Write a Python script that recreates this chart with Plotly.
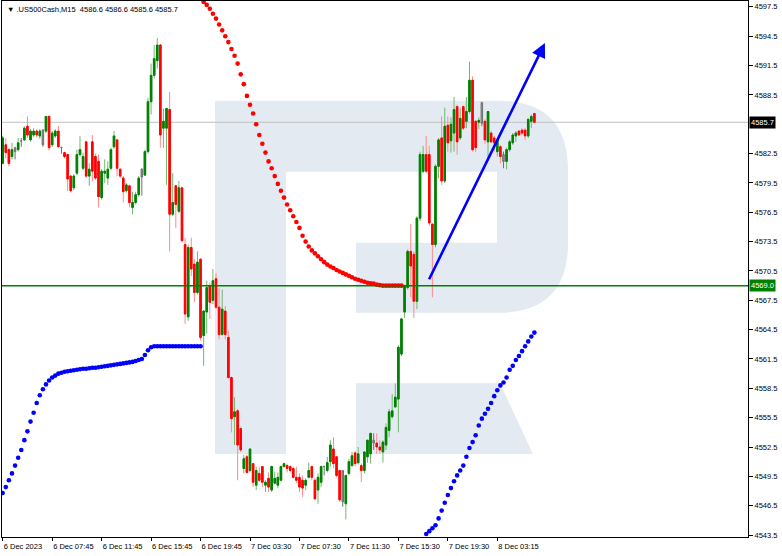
import plotly.graph_objects as go

# ---------------- data ----------------
tick_bars = [0, 16, 32, 48, 64, 80, 96, 112, 128, 144, 160]
tick_labels = ["6 Dec 2023", "6 Dec 07:45", "6 Dec 11:45", "6 Dec 15:45", "6 Dec 19:45",
               "7 Dec 03:30", "7 Dec 07:30", "7 Dec 11:30", "7 Dec 15:30", "7 Dec 19:30",
               "8 Dec 03:15"]

price_ticks = [4597.5, 4594.5, 4591.5, 4588.5, 4582.5, 4579.5, 4576.5, 4573.5, 4570.5,
               4567.5, 4564.5, 4561.5, 4558.5, 4555.5, 4552.5, 4549.5, 4546.5, 4543.5]

open_ = [4581.5, 4583.4, 4582.9, 4582.2, 4583.1, 4582.9, 4583.8, 4583.9, 4585.3, 4583.9,
         4584.4, 4584.8, 4584.3, 4584.9, 4584.8, 4586.3, 4583.4, 4584.3, 4584.8, 4583.1,
         4582.6, 4582.4, 4580.2, 4579.0, 4580.5, 4582.4, 4581.0, 4583.7, 4580.2, 4583.7,
         4582.2, 4581.7, 4578.0, 4580.5, 4580.0, 4581.0, 4583.2, 4583.9, 4580.9, 4580.0,
         4578.7, 4579.2, 4577.0, 4577.5, 4578.3, 4580.9, 4580.3, 4582.7, 4587.8, 4590.5,
         4592.0, 4593.6, 4585.1, 4585.1, 4587.0, 4576.3, 4579.2, 4576.6, 4579.0, 4573.2,
         4565.8, 4572.9, 4571.2, 4568.3, 4571.7, 4563.9, 4566.3, 4569.0, 4567.5, 4569.7,
         4566.8, 4564.0, 4566.4, 4563.7, 4559.6, 4555.6, 4556.2, 4554.4, 4550.3, 4551.5,
         4550.1, 4550.8, 4548.6, 4549.8, 4550.5, 4548.6, 4549.3, 4548.1, 4548.8, 4548.6,
         4549.1, 4550.5, 4550.6, 4550.5, 4550.3, 4549.4, 4549.4, 4549.1, 4548.6, 4549.4,
         4550.5, 4549.1, 4548.1, 4548.9, 4550.5, 4550.1, 4551.0, 4552.3, 4551.5, 4550.1,
         4550.1, 4546.7, 4549.8, 4550.6, 4551.9, 4550.9, 4550.6, 4550.1, 4551.5, 4551.8,
         4553.2, 4552.9, 4552.5, 4552.0, 4552.7, 4554.2, 4555.6, 4556.6, 4557.4, 4562.0,
         4566.3, 4568.8, 4572.5, 4572.2, 4567.4, 4575.9, 4580.7, 4582.4, 4582.4, 4575.3,
         4573.2, 4581.2, 4584.1, 4579.7, 4585.4, 4583.8, 4584.6, 4587.3, 4584.1, 4587.3,
         4585.8, 4586.8, 4590.0, 4585.8, 4585.7, 4587.7, 4585.8, 4583.7, 4584.6, 4584.1,
         4582.7, 4583.2, 4582.4, 4581.7, 4582.9, 4583.6, 4584.3, 4584.8, 4584.9, 4584.9,
         4584.3, 4585.8, 4586.6]

high = [4584.3, 4584.1, 4583.1, 4583.6, 4583.2, 4584.1, 4584.1, 4585.3, 4586.3, 4585.0,
        4585.1, 4585.0, 4585.0, 4585.0, 4586.3, 4586.4, 4584.8, 4585.0, 4585.3, 4583.2,
        4582.7, 4582.5, 4580.3, 4580.4, 4582.9, 4584.3, 4582.6, 4583.8, 4581.5, 4584.4,
        4582.5, 4582.4, 4580.9, 4581.9, 4581.7, 4583.1, 4584.8, 4584.0, 4581.0, 4580.2,
        4579.5, 4579.3, 4578.6, 4578.6, 4580.2, 4581.0, 4582.9, 4588.2, 4591.7, 4593.6,
        4594.3, 4593.7, 4587.1, 4587.2, 4588.8, 4580.5, 4579.3, 4579.7, 4579.1, 4573.9,
        4573.2, 4573.9, 4571.7, 4572.5, 4571.8, 4566.5, 4569.5, 4569.3, 4570.7, 4570.3,
        4568.8, 4568.6, 4566.9, 4564.4, 4559.7, 4557.6, 4556.4, 4554.4, 4551.7, 4551.7,
        4552.3, 4550.8, 4550.5, 4550.5, 4550.5, 4549.1, 4549.9, 4550.6, 4550.0, 4549.9,
        4550.6, 4550.9, 4550.8, 4550.6, 4550.5, 4550.5, 4549.8, 4549.6, 4549.3, 4550.9,
        4550.6, 4549.3, 4549.8, 4550.6, 4550.6, 4551.5, 4553.2, 4553.5, 4551.6, 4550.1,
        4550.1, 4549.6, 4551.3, 4552.0, 4552.1, 4552.5, 4550.8, 4552.0, 4553.2, 4553.9,
        4553.9, 4553.9, 4553.2, 4553.2, 4554.9, 4556.4, 4557.9, 4559.0, 4562.9, 4565.7,
        4569.1, 4572.7, 4575.3, 4572.5, 4576.1, 4582.7, 4583.3, 4584.3, 4583.3, 4575.3,
        4581.4, 4584.1, 4586.3, 4587.2, 4586.3, 4586.2, 4588.3, 4587.5, 4587.1, 4587.4,
        4588.3, 4591.9, 4590.4, 4585.9, 4586.2, 4587.8, 4586.0, 4586.8, 4584.8, 4584.3,
        4583.9, 4583.4, 4582.7, 4583.1, 4583.9, 4584.6, 4584.8, 4584.9, 4585.1, 4585.1,
        4586.1, 4586.5, 4586.6]

low = [4581.4, 4582.0, 4581.2, 4581.9, 4581.9, 4582.7, 4583.2, 4583.8, 4584.1, 4583.7,
       4584.2, 4584.2, 4584.0, 4583.2, 4584.6, 4582.8, 4583.2, 4584.1, 4583.1, 4582.5,
       4582.0, 4578.7, 4578.5, 4578.8, 4580.3, 4582.2, 4580.8, 4580.0, 4579.2, 4579.7,
       4579.8, 4577.0, 4577.8, 4579.5, 4579.3, 4580.8, 4583.0, 4580.2, 4580.0, 4577.5,
       4578.5, 4577.0, 4576.3, 4577.3, 4578.1, 4578.2, 4580.2, 4582.5, 4586.5, 4590.2,
       4591.2, 4583.1, 4583.1, 4579.3, 4572.5, 4576.1, 4574.9, 4576.4, 4573.4, 4565.1,
       4565.4, 4570.0, 4567.3, 4568.1, 4563.4, 4560.8, 4564.1, 4565.6, 4567.1, 4566.6,
       4563.5, 4563.9, 4563.5, 4559.5, 4554.0, 4552.7, 4549.1, 4552.0, 4549.8, 4549.8,
       4549.9, 4548.4, 4548.1, 4548.9, 4548.4, 4547.9, 4547.9, 4547.9, 4548.7, 4548.3,
       4549.0, 4550.4, 4549.9, 4549.9, 4549.3, 4548.8, 4547.9, 4547.4, 4548.1, 4549.3,
       4549.1, 4547.1, 4546.7, 4548.4, 4549.6, 4549.9, 4550.5, 4550.3, 4549.4, 4546.9,
       4546.4, 4545.1, 4549.6, 4550.5, 4550.5, 4550.7, 4548.9, 4549.8, 4550.9, 4550.8,
       4552.2, 4551.8, 4551.8, 4550.9, 4552.2, 4553.5, 4555.4, 4556.5, 4554.0, 4561.8,
       4565.7, 4568.6, 4567.8, 4565.7, 4566.6, 4575.6, 4580.5, 4580.5, 4575.1, 4567.8,
       4572.9, 4580.0, 4579.3, 4579.5, 4582.7, 4582.6, 4582.7, 4582.4, 4583.9, 4584.9,
       4585.1, 4586.6, 4582.7, 4582.7, 4585.0, 4585.3, 4583.5, 4582.0, 4583.6, 4582.7,
       4582.2, 4581.5, 4581.0, 4580.9, 4582.7, 4583.4, 4583.7, 4584.3, 4584.4, 4583.9,
       4584.1, 4585.1, 4585.6]

close = [4584.1, 4582.6, 4581.5, 4582.9, 4582.7, 4583.6, 4583.8, 4585.1, 4584.4, 4584.8,
         4584.8, 4584.4, 4584.8, 4583.4, 4586.3, 4583.1, 4584.6, 4584.8, 4583.2, 4583.1,
         4582.2, 4579.9, 4578.7, 4580.2, 4582.4, 4582.9, 4582.2, 4580.2, 4580.9, 4580.7,
         4580.0, 4578.1, 4580.7, 4580.7, 4580.9, 4582.9, 4584.3, 4581.0, 4580.2, 4578.6,
         4579.3, 4577.5, 4577.5, 4578.3, 4580.0, 4580.1, 4582.7, 4587.8, 4590.5, 4592.2,
         4593.6, 4584.4, 4585.8, 4587.1, 4576.3, 4577.5, 4577.3, 4579.0, 4573.6, 4566.1,
         4572.9, 4570.7, 4568.3, 4571.4, 4563.7, 4566.4, 4568.8, 4567.3, 4569.5, 4566.8,
         4564.0, 4566.6, 4564.0, 4559.6, 4555.4, 4556.1, 4552.7, 4552.2, 4551.3, 4549.9,
         4552.3, 4548.9, 4550.1, 4549.1, 4548.9, 4548.9, 4548.4, 4550.5, 4549.3, 4549.4,
         4550.5, 4550.8, 4550.3, 4550.1, 4549.4, 4549.1, 4548.4, 4548.3, 4549.1, 4550.1,
         4549.4, 4547.2, 4549.4, 4550.5, 4550.5, 4550.9, 4552.7, 4550.8, 4549.6, 4547.1,
         4546.9, 4549.6, 4551.0, 4551.6, 4550.8, 4551.8, 4550.1, 4552.0, 4553.2, 4553.9,
         4552.9, 4552.5, 4552.2, 4553.0, 4554.5, 4556.1, 4556.2, 4557.6, 4562.7, 4565.6,
         4569.0, 4572.5, 4571.0, 4567.4, 4575.9, 4582.4, 4582.4, 4580.7, 4575.4, 4573.2,
         4581.2, 4583.9, 4579.7, 4585.3, 4583.6, 4585.5, 4587.0, 4583.7, 4586.1, 4585.1,
         4586.8, 4590.0, 4582.9, 4583.1, 4585.9, 4585.6, 4583.9, 4586.8, 4583.7, 4583.6,
         4583.9, 4582.2, 4581.7, 4582.9, 4583.7, 4584.4, 4584.6, 4584.4, 4584.6, 4584.3,
         4586.0, 4586.3, 4585.7]

neutral_bars = [4, 6, 13, 19, 45, 104, 110, 120, 155, 162]

# red dotted indicator (starts at bar 65)
red_start = 65
red_dots = [4598.0, 4597.7, 4597.3, 4596.8, 4596.3, 4595.7, 4595.1, 4594.5, 4593.9, 4593.2,
            4592.5, 4591.7, 4590.6, 4589.6, 4588.4, 4587.5, 4586.6, 4585.5, 4584.4, 4583.5,
            4582.6, 4581.7, 4581.0, 4580.2, 4579.4, 4578.7, 4578.0, 4577.3, 4576.7, 4576.1,
            4575.5, 4574.9, 4574.1, 4573.5, 4573.0, 4572.6, 4572.3, 4572.0, 4571.7, 4571.4,
            4571.15, 4570.95, 4570.8, 4570.6, 4570.45, 4570.3, 4570.15, 4570.0, 4569.85, 4569.7,
            4569.6, 4569.5, 4569.4, 4569.3, 4569.25, 4569.2, 4569.1, 4569.05, 4569.0, 4569.0,
            4569.0, 4569.0, 4569.0, 4569.0, 4569.0]

# blue dotted indicator, first run (starts at bar 0)
blue1_start = 0
blue1_dots = [4547.8, 4548.4, 4549.1, 4549.8, 4550.6, 4551.4, 4552.2, 4553.2, 4554.1, 4555.1,
              4556.0, 4557.0, 4557.8, 4558.4, 4558.9, 4559.3, 4559.6, 4559.8, 4560.0, 4560.1,
              4560.2, 4560.25, 4560.3, 4560.35, 4560.4, 4560.45, 4560.5, 4560.5, 4560.55, 4560.6,
              4560.6, 4560.65, 4560.7, 4560.75, 4560.8, 4560.85, 4560.9, 4560.95, 4561.0, 4561.05,
              4561.1, 4561.15, 4561.2, 4561.3, 4561.4, 4561.5, 4561.9, 4562.4, 4562.7, 4562.8,
              4562.8, 4562.8, 4562.8, 4562.8, 4562.8, 4562.8, 4562.8, 4562.8, 4562.8, 4562.8,
              4562.8, 4562.8, 4562.8, 4562.8, 4562.8]

# blue dotted indicator, second run (starts at bar 137)
blue2_start = 137
blue2_dots = [4543.6, 4543.9, 4544.2, 4544.5, 4545.2, 4546.0, 4546.8, 4547.6, 4548.3, 4549.0,
              4549.6, 4550.1, 4550.6, 4551.5, 4552.4, 4553.0, 4553.7, 4554.7, 4555.4, 4555.9,
              4556.4, 4557.0, 4557.7, 4558.3, 4558.8, 4559.1, 4559.6, 4560.4, 4560.8, 4561.4,
              4561.8, 4562.3, 4562.8, 4563.3, 4563.8, 4564.2]

bid_price = 4585.7
level_price = 4569.0

arrow_bars = [137.7, 175.4]
arrow_prices = [4569.5, 4593.8]

header_text = "▼ .US500Cash,M15&nbsp;&nbsp;4586.6 4586.6 4585.6 4585.7"

# ---------------- figure ----------------
GREEN = "#008000"
GREEN_WICK = "#6fb86f"
RED = "#ff0000"
RED_WICK = "#ff8a8a"
FONT = "Liberation Sans, Arial, sans-serif"

fig = go.Figure()

bars = list(range(len(open_)))
up_idx = [i for i in bars if i not in neutral_bars and close[i] > open_[i]]
down_idx = [i for i in bars if i not in neutral_bars and close[i] <= open_[i]]


def candles(idx, line_color, fill_color, body_only=False):
    style = dict(line=dict(color=line_color, width=1), fillcolor=fill_color)
    o = [open_[i] for i in idx]
    c = [close[i] for i in idx]
    if body_only:
        h = [max(a, b) for a, b in zip(o, c)]
        lo = [min(a, b) for a, b in zip(o, c)]
    else:
        h = [high[i] for i in idx]
        lo = [low[i] for i in idx]
    return go.Candlestick(
        x=idx, open=o, high=h, low=lo, close=c,
        increasing=style, decreasing=style, whiskerwidth=0,
        hoverinfo="skip", showlegend=False)


# wicks (lighter), then solid bodies on top
fig.add_trace(candles(up_idx, GREEN_WICK, GREEN))
fig.add_trace(candles(down_idx, RED_WICK, RED))
fig.add_trace(candles(neutral_bars, "#707070", "#909090"))
fig.add_trace(candles(up_idx, GREEN, GREEN, body_only=True))
fig.add_trace(candles(down_idx, RED, RED, body_only=True))


def dots(start, vals, color):
    return go.Scatter(x=list(range(start, start + len(vals))), y=vals, mode="markers",
                      marker=dict(color=color, size=4.6, line=dict(width=0)),
                      hoverinfo="skip", showlegend=False)


fig.add_trace(dots(red_start, red_dots, RED))
fig.add_trace(dots(blue1_start, blue1_dots, "#0000ff"))
fig.add_trace(dots(blue2_start, blue2_dots, "#0000ff"))

# ---- watermark logo (decorative, in pixel space of the plot area) ----
PL, PT, PW, PH = 2, 1, 746, 536


def P(x, y):
    return f"{(x - PL) / PW:.5f},{1 - (y - PT) / PH:.5f}"


logo = ("M" + P(215, 100.7) + " L" + P(498, 100.7) + " Q" + P(568, 100.7) + " " + P(568, 170.7)
        + " L" + P(568, 242.7) + " Q" + P(568, 312.7) + " " + P(498, 312.7)
        + " L" + P(356, 312.7) + " L" + P(356, 242.7) + " L" + P(497, 242.7)
        + " L" + P(497, 171.7) + " L" + P(286, 171.7) + " L" + P(286, 454)
        + " L" + P(215, 454) + " Z")
leg = ("M" + P(356, 383.3) + " L" + P(500, 383.3) + " L" + P(533, 454) + " L" + P(356, 454) + " Z")
WM = "rgb(228,234,242)"
shapes = [
    dict(type="path", path=logo, xref="paper", yref="paper", fillcolor=WM, line=dict(width=0), layer="below"),
    dict(type="path", path=leg, xref="paper", yref="paper", fillcolor=WM, line=dict(width=0), layer="below"),
    dict(type="line", xref="paper", yref="y", x0=0, x1=1, y0=bid_price, y1=bid_price,
         line=dict(color="#c0c0c0", width=1), layer="below"),
    dict(type="line", xref="paper", yref="y", x0=0, x1=1, y0=level_price, y1=level_price,
         line=dict(color=GREEN, width=1.5), layer="above"),
]

annotations = [
    dict(x=arrow_bars[1], y=arrow_prices[1], ax=arrow_bars[0], ay=arrow_prices[0],
         xref="x", yref="y", axref="x", ayref="y", text="", showarrow=True,
         arrowhead=2, arrowsize=1.1, arrowwidth=2.6, arrowcolor="#0000ff"),
    dict(xref="paper", yref="y", x=1, y=bid_price, xanchor="left", yanchor="middle",
         text=f"{bid_price:.1f}", showarrow=False, bgcolor="#000000",
         font=dict(color="white", size=7.5, family=FONT), borderpad=1, xshift=1),
    dict(xref="paper", yref="y", x=1, y=level_price, xanchor="left", yanchor="middle",
         text=f"{level_price:.1f}", showarrow=False, bgcolor=GREEN,
         font=dict(color="white", size=7.5, family=FONT), borderpad=1, xshift=1),
    dict(xref="paper", yref="paper", x=0, y=1, xanchor="left", yanchor="top",
         text=header_text, showarrow=False, font=dict(color="black", size=7.5, family=FONT),
         xshift=3, yshift=-2),
]

fig.update_layout(
    width=782, height=556,
    margin=dict(l=PL, r=782 - PL - PW, t=PT, b=556 - PT - PH),
    plot_bgcolor="white", paper_bgcolor="white",
    showlegend=False,
    font=dict(family=FONT, size=7.5, color="black"),
    shapes=shapes, annotations=annotations,
)
fig.update_xaxes(
    range=[-0.23, 241.1], tickmode="array", tickvals=tick_bars, ticktext=tick_labels,
    ticks="outside", ticklen=3, tickcolor="black", showline=True, linecolor="black",
    linewidth=1, mirror=True, showgrid=False, zeroline=False,
    ticklabelposition="outside right", rangeslider_visible=False, automargin=False,
    ticklabelstandoff=2,
)
fig.update_yaxes(
    side="right", range=[4543.3, 4598.1], tickmode="array", tickvals=price_ticks,
    tickformat=".1f", ticks="outside", ticklen=4, tickcolor="black", showline=True,
    linecolor="black", linewidth=1, mirror=True, showgrid=False, zeroline=False,
    automargin=False,
)

fig.write_html("out.html",
               config={"displayModeBar": False},
               post_script="document.body.style.margin='0';document.body.style.padding='0';")
